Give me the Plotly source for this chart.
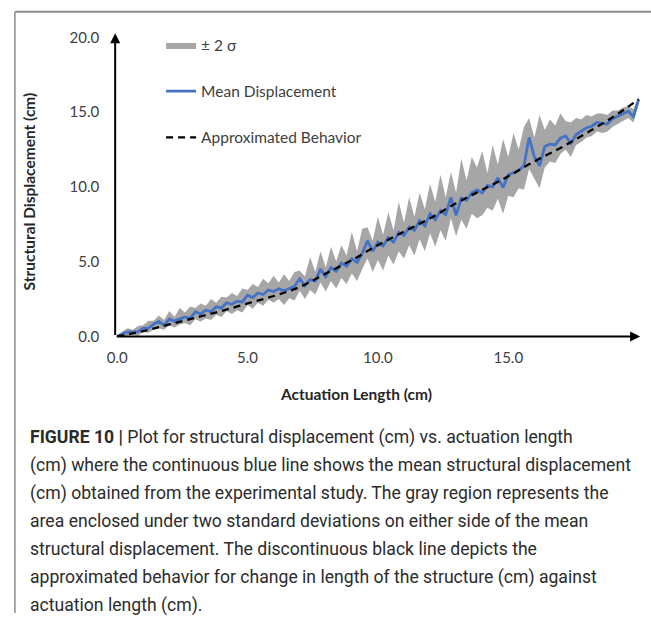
import plotly.graph_objects as go

# ---------------- data ----------------
# evenly spaced actuation samples (cm), 0 ... 20
actuation = [round(i * 0.2, 1) for i in range(101)]

mean_disp = [
    0.00, 0.15, 0.30, 0.28, 0.32, 0.55, 0.55, 0.82, 1.00, 0.75,
    1.15, 1.02, 1.18, 1.30, 1.20, 1.65, 1.50, 1.75, 1.65, 1.98,
    1.90, 2.25, 2.15, 2.35, 2.30, 2.75, 2.60, 2.90, 2.80, 3.10,
    3.00, 3.18, 3.05, 3.20, 3.35, 3.85, 3.40, 3.80, 3.70, 4.50,
    4.00, 4.60, 4.35, 4.90, 4.70, 5.20, 4.95, 5.55, 6.40, 5.70,
    6.30, 6.05, 6.60, 6.30, 6.95, 6.75, 7.30, 7.10, 7.75, 7.40,
    8.20, 7.80, 8.40, 8.15, 9.30, 8.10, 9.25, 9.10, 9.60, 9.80,
    9.60, 10.10, 10.00, 10.60, 9.95, 10.80, 10.95, 11.10, 11.40, 13.30,
    12.00, 11.40, 12.70, 12.85, 12.80, 13.25, 13.40, 12.90, 13.50, 13.70,
    13.95, 14.05, 14.30, 14.25, 14.20, 14.55, 14.70, 14.85, 15.05, 14.70,
    15.85,
]

upper_2sigma = [
    0.05, 0.35, 0.55, 0.45, 0.70, 0.75, 1.05, 1.05, 1.40, 1.10,
    1.70, 1.30, 1.90, 1.60, 2.00, 1.90, 2.20, 2.05, 2.50, 2.25,
    2.65, 2.60, 2.90, 2.70, 3.20, 3.10, 3.50, 3.30, 3.85, 3.55,
    4.05, 3.60, 4.15, 3.70, 4.30, 4.40, 4.00, 5.30, 4.30, 5.70,
    4.60, 6.00, 5.00, 6.10, 5.40, 7.00, 5.70, 7.20, 7.30, 6.40,
    8.00, 6.80, 8.30, 7.10, 9.00, 7.60, 9.30, 8.00, 9.60, 8.50,
    10.20, 9.00, 10.80, 9.30, 11.00, 9.60, 11.90, 10.40, 12.00, 11.30,
    12.40, 10.90, 12.80, 11.50, 13.20, 12.00, 13.60, 12.50, 14.00, 14.60,
    13.30, 14.80, 13.80, 14.50, 14.10, 14.90, 14.40, 14.30, 14.60, 14.50,
    14.80, 14.70, 14.90, 14.90, 14.80, 15.10, 15.10, 15.30, 15.40, 15.20,
    16.05,
]

lower_2sigma = [
    0.00, 0.00, 0.05, 0.10, 0.05, 0.30, 0.25, 0.45, 0.55, 0.45,
    0.75, 0.60, 0.80, 0.90, 0.75, 1.15, 1.00, 1.20, 1.10, 1.45,
    1.30, 1.70, 1.50, 1.75, 1.60, 2.10, 1.85, 2.25, 2.05, 2.45,
    2.25, 2.50, 2.10, 2.55, 2.40, 3.05, 2.50, 3.10, 2.80, 3.60,
    3.00, 3.70, 3.20, 3.90, 3.50, 4.20, 3.70, 4.50, 5.20, 4.30,
    5.10, 4.40, 5.40, 4.80, 5.70, 5.20, 6.10, 5.40, 6.50, 5.70,
    6.90, 6.00, 7.10, 6.40, 7.90, 6.70, 7.80, 7.20, 8.20, 7.90,
    8.10, 8.60, 8.40, 9.20, 8.20, 9.40, 9.30, 9.90, 9.80, 11.20,
    10.60, 9.90, 11.30, 11.70, 11.60, 12.20, 12.50, 12.00, 12.80, 13.00,
    13.30, 13.40, 13.70, 13.60, 13.70, 14.00, 14.20, 14.40, 14.60, 14.30,
    15.55,
]

approx_x = [0, 1, 2, 3, 4, 5, 6, 7, 8, 9, 10, 11, 12, 13, 14, 15, 16, 17, 18, 19, 20]
approx_y = [0.00, 0.35, 0.80, 1.25, 1.70, 2.20, 2.70, 3.30, 4.20, 5.10, 6.10,
            7.00, 7.90, 8.90, 9.80, 10.70, 11.70, 12.60, 13.60, 14.65, 15.85]

x_ticks = [0, 5, 10, 15]
y_ticks = [0, 5, 10, 15, 20]

x_title = "Actuation Length (cm)"
y_title = "Structural Displacement (cm)"

caption_lines = [
    "<b>FIGURE 10 |</b> Plot for structural displacement (cm) vs. actuation length",
    "(cm) where the continuous blue line shows the mean structural displacement",
    "(cm) obtained from the experimental study. The gray region represents the",
    "area enclosed under two standard deviations on either side of the mean",
    "structural displacement. The discontinuous black line depicts the",
    "approximated behavior for change in length of the structure (cm) against",
    "actuation length (cm).",
]

# ---------------- figure ----------------
W, H = 651, 621
PXU_X = 26.4           # pixels per cm on x
PXU_Y = 15.3           # pixels per cm on y
X0_PX, Y0_PX = 110.5, 338.0
XR = [-2.0 / PXU_X, (640 - X0_PX) / PXU_X]
YR = [-0.6 / PXU_Y, (Y0_PX - 28) / PXU_Y]

fig = go.Figure()

fig.add_trace(go.Scatter(
    x=actuation, y=lower_2sigma, mode="lines",
    line=dict(width=0, color="#a6a6a6"), showlegend=False, hoverinfo="skip",
    legendgroup="g1",
))
fig.add_trace(go.Scatter(
    x=actuation, y=upper_2sigma, mode="lines", fill="tonexty",
    fillcolor="#a6a6a6", line=dict(width=0, color="#a6a6a6"),
    name="± 2 σ", legendgroup="g1",
))
fig.add_trace(go.Scatter(
    x=actuation, y=mean_disp, mode="lines",
    line=dict(color="#4472c4", width=2.8),
    name="Mean Displacement", legendgroup="g2",
))
fig.add_trace(go.Scatter(
    x=approx_x, y=approx_y, mode="lines", line_shape="spline",
    line=dict(color="black", width=2.3, dash="7px,5px"),
    name="Approximated Behavior", legendgroup="g3",
))

chart_font = "Lato, 'Open Sans', sans-serif"

fig.update_layout(
    width=W, height=H,
    margin=dict(l=0, r=0, t=0, b=0),
    paper_bgcolor="white", plot_bgcolor="white",
    font=dict(family=chart_font, size=15, color="#404040"),
    showlegend=True,
    legend=dict(
        x=155 / W, y=1 - 23 / H, xanchor="left", yanchor="top",
        bgcolor="rgba(0,0,0,0)", font=dict(size=15.5, color="#404040"),
        tracegroupgap=23, itemwidth=30,
    ),
    xaxis=dict(
        domain=[(X0_PX + XR[0] * PXU_X) / W, 640 / W], range=XR,
        tickvals=x_ticks, tickformat=".1f", showgrid=False, zeroline=False,
        showline=False, ticks="", ticklabelstandoff=10,
        tickfont=dict(size=15, color="#404040"),
    ),
    yaxis=dict(
        domain=[1 - (Y0_PX - YR[0] * PXU_Y) / H, 1 - 28 / H], range=YR,
        tickvals=y_ticks, tickformat=".1f", showgrid=False, zeroline=False,
        showline=False, ticks="", ticklabelstandoff=15,
        tickfont=dict(size=15, color="#404040"),
    ),
)

annotations = []
# axis arrows
annotations.append(dict(
    x=XR[1], y=0, ax=XR[0], ay=0, xref="x", yref="y", axref="x", ayref="y",
    text="", showarrow=True, arrowhead=2, arrowsize=1, arrowwidth=2,
    arrowcolor="black", standoff=0, startstandoff=0,
))
annotations.append(dict(
    x=XR[0], y=YR[1], ax=XR[0], ay=0, xref="x", yref="y", axref="x", ayref="y",
    text="", showarrow=True, arrowhead=2, arrowsize=1, arrowwidth=2,
    arrowcolor="black", standoff=0, startstandoff=0,
))
# axis titles
annotations.append(dict(
    x=352 / W, y=1 - 397 / H, xref="paper", yref="paper",
    text="<b>" + x_title + "</b>", showarrow=False,
    font=dict(family=chart_font, size=15.5, color="#262626"),
    xanchor="center", yanchor="middle",
))
annotations.append(dict(
    x=21 / W, y=1 - 190 / H, xref="paper", yref="paper",
    text="<b>" + y_title + "</b>", showarrow=False, textangle=-90,
    font=dict(family=chart_font, size=15.5, color="#262626"),
    xanchor="center", yanchor="middle",
))
# caption
cap_y0 = 441
cap_dy = 28.7
for i, line in enumerate(caption_lines):
    annotations.append(dict(
        x=20 / W, y=1 - (cap_y0 + i * cap_dy) / H, xref="paper", yref="paper",
        text=line, showarrow=False, xanchor="left", yanchor="middle",
        align="left",
        font=dict(family="Roboto, 'Liberation Sans', sans-serif", size=17.6,
                  color="#2b2b2b"),
    ))
fig.update_layout(annotations=annotations)

# frame lines (page border)
fig.add_shape(type="line", xref="paper", yref="paper",
              x0=7 / W, x1=1, y0=1 - 6 / H, y1=1 - 6 / H,
              line=dict(color="#8c8c8c", width=2))
fig.add_shape(type="line", xref="paper", yref="paper",
              x0=7 / W, x1=7 / W, y0=0, y1=1 - 6 / H,
              line=dict(color="#8c8c8c", width=1.5))

fig.write_html("out.html")
